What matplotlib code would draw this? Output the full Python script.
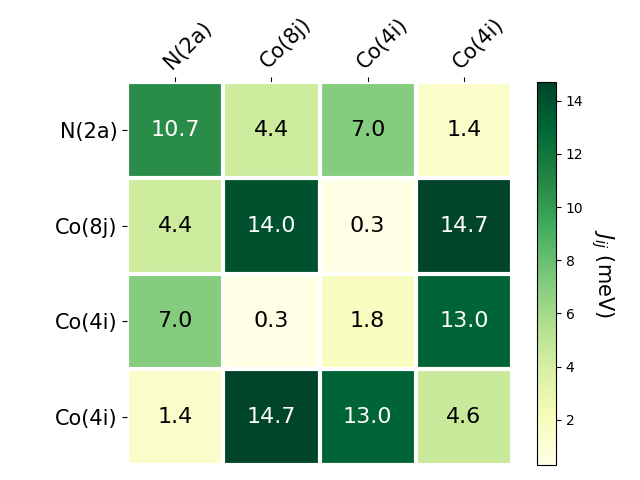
import numpy as np
import matplotlib.pyplot as plt

# Data
sites = ['N(2a)', 'Co(8j)', 'Co(4i)', 'Co(4i)']
J = np.array([[10.7, 4.4, 7.0, 1.4],
              [4.4, 14.0, 0.3, 14.7],
              [7.0, 0.3, 1.8, 13.0],
              [1.4, 14.7, 13.0, 4.6]])

fig = plt.figure(figsize=(6.4, 4.8), dpi=100)
ax = fig.add_axes([127 / 640, 15 / 480, 385 / 640, 383 / 480])
cax = fig.add_axes([537 / 640, 15 / 480, 19 / 640, 383 / 480])

im = ax.imshow(J, cmap='YlGn', aspect='auto')
cbar = fig.colorbar(im, cax=cax)
cbar.ax.set_ylabel(r'$J_{ij}$ (meV)', rotation=-90, va='bottom', fontsize=15)

ax.set_xticks(np.arange(len(sites)))
ax.set_yticks(np.arange(len(sites)))
ax.set_xticklabels(sites, fontsize=15)
ax.set_yticklabels(sites, fontsize=15)
ax.tick_params(top=True, bottom=False, labeltop=True, labelbottom=False)
plt.setp(ax.get_xticklabels(), rotation=45, ha='left', rotation_mode='anchor')

# White gaps between cells
for s in ax.spines.values():
    s.set_visible(False)
ax.set_xticks(np.arange(J.shape[1] + 1) - .5, minor=True)
ax.set_yticks(np.arange(J.shape[0] + 1) - .5, minor=True)
ax.grid(which='minor', color='w', linestyle='-', linewidth=3)
ax.tick_params(which='minor', bottom=False, left=False, top=False)

# Annotations
threshold = im.norm(J.max()) / 2.
for i in range(J.shape[0]):
    for j in range(J.shape[1]):
        c = 'white' if im.norm(J[i, j]) > threshold else 'black'
        ax.text(j, i, f'{J[i, j]:.1f}', ha='center', va='center', color=c, fontsize=16)

plt.savefig('out.png', dpi=100)
